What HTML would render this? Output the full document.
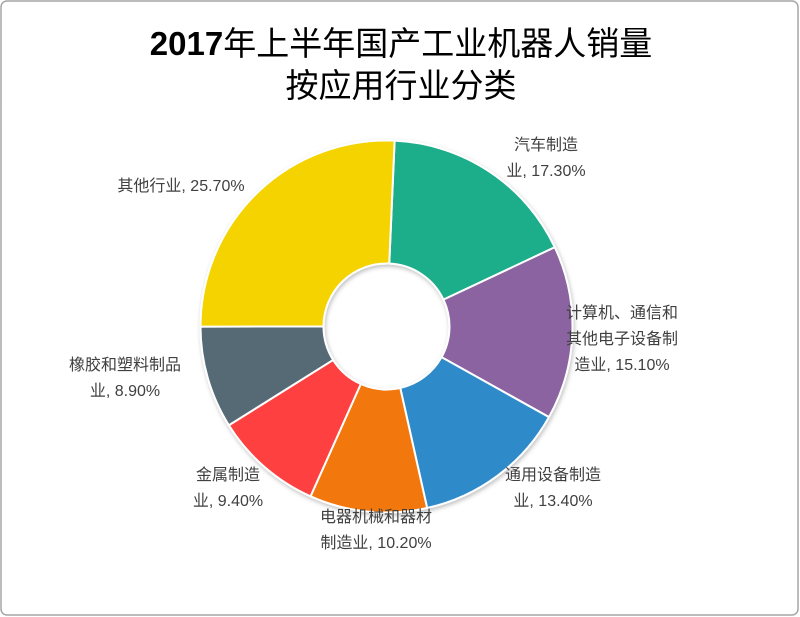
<!DOCTYPE html>
<html><head><meta charset="utf-8">
<style>
html,body{margin:0;padding:0;background:#fff;}
#wrap{position:relative;width:800px;height:617px;overflow:hidden;}
svg text{font-family:"Liberation Sans","Noto Sans CJK SC",sans-serif;}
</style></head>
<body>
<div id="wrap">
<svg id="chart" width="800" height="617" viewBox="0 0 800 617">
<defs><filter id="sh" x="-10%" y="-10%" width="120%" height="120%"><feDropShadow dx="1" dy="2" stdDeviation="2" flood-color="#000" flood-opacity="0.25"/></filter></defs>
<rect x="1" y="1" width="797" height="614" rx="6" fill="#fff" stroke="#a6a6a6" stroke-width="1.5"/>
<text x="401" y="55" text-anchor="middle" font-size="33" fill="#000"><tspan font-weight="bold">2017</tspan>年上半年国产工业机器人销量</text>
<text x="401" y="97" text-anchor="middle" font-size="33" fill="#000">按应用行业分类</text>
<g id="slices" filter="url(#sh)"></g>
<g id="labels"></g>
</svg>
</div>
<script>
const categories = ["汽车制造业","计算机、通信和其他电子设备制造业","通用设备制造业","电器机械和器材制造业","金属制造业","橡胶和塑料制品业","其他行业"];
const values = [17.3, 15.1, 13.4, 10.2, 9.4, 8.9, 25.7];
const valueLabels = ["17.30%","15.10%","13.40%","10.20%","9.40%","8.90%","25.70%"];
const colors = ["#1fad8a","#8a64a0","#2f8ac9","#f2780c","#fe3f3f","#566b76","#f5d300"];
const labelLines = [
  ["汽车制造","业, 17.30%"],
  ["计算机、通信和","其他电子设备制","造业, 15.10%"],
  ["通用设备制造","业, 13.40%"],
  ["电器机械和器材","制造业, 10.20%"],
  ["金属制造","业, 9.40%"],
  ["橡胶和塑料制品","业, 8.90%"],
  ["其他行业, 25.70%"]
];
const cx=386.5, cy=326.5, R=186, r=63, startDeg=2.5;
const labelPos=[[546,150,"middle"],[622,318,"middle"],[553,480,"middle"],[376,522,"middle"],[228,480,"middle"],[125,370,"middle"],[181,191,"middle"]];
const ns="http://www.w3.org/2000/svg";
const total=values.reduce((a,b)=>a+b,0);
function pt(deg,rad){const a=(deg-90)*Math.PI/180;return [cx+rad*Math.cos(a),cy+rad*Math.sin(a)];}
const gS=document.getElementById('slices'), gL=document.getElementById('labels');
let acc=startDeg;
values.forEach((v,i)=>{
  const sweep=v/total*360, a0=acc, a1=acc+sweep; acc=a1;
  const large=sweep>180?1:0;
  const p0=pt(a0,R),p1=pt(a1,R),q1=pt(a1,r),q0=pt(a0,r);
  const d=`M${p0[0]},${p0[1]} A${R},${R} 0 ${large} 1 ${p1[0]},${p1[1]} L${q1[0]},${q1[1]} A${r},${r} 0 ${large} 0 ${q0[0]},${q0[1]} Z`;
  const p=document.createElementNS(ns,'path');
  p.setAttribute('d',d);p.setAttribute('fill',colors[i]);p.setAttribute('stroke','#fff');p.setAttribute('stroke-width','2');
  
  
  gS.appendChild(p);
  const lp=labelPos[i];
  const t=document.createElementNS(ns,'text');
  t.setAttribute('x',lp[0]);t.setAttribute('y',lp[1]);t.setAttribute('text-anchor',lp[2]);
  t.setAttribute('font-size','16');t.setAttribute('fill','#404040');
  
  
  labelLines[i].forEach((s,j)=>{const ts=document.createElementNS(ns,'tspan');ts.setAttribute('x',lp[0]);ts.setAttribute('dy',j?26:0);ts.textContent=s;t.appendChild(ts);});
  gL.appendChild(t);
});
</script>
</body></html>
